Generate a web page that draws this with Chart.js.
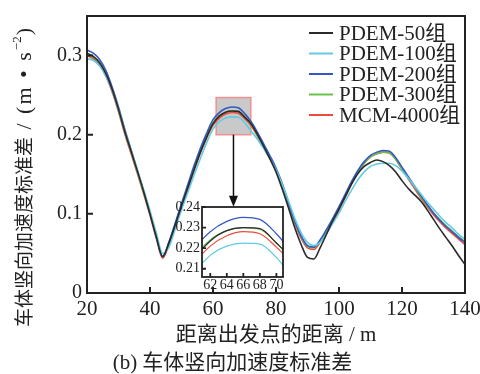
<!DOCTYPE html>
<html>
<head>
<meta charset="utf-8">
<script src="https://cdn.jsdelivr.net/npm/chart.js@4.4.1/dist/chart.umd.min.js"></script>
<style>
  html, body { margin: 0; padding: 0; background: #fff; }
  #wrap { position: relative; width: 480px; height: 374px; }
  #main { position: absolute; left: 0; top: 0; }
  #inset { position: absolute; left: 160px; top: 195px; }
</style>
</head>
<body>
<div id="wrap">
  <canvas id="main" width="480" height="374"></canvas>
  <canvas id="inset" width="130" height="105"></canvas>
</div>
<script>
// distance from the start (m)
const distance = [20, 22, 24, 26, 28, 30, 32, 34, 36, 38, 40, 42, 44, 46, 48, 50, 52, 54, 56, 58,
  60, 62, 64, 66, 68, 70, 72, 74, 76, 78, 80, 82, 84, 86, 88, 90, 92, 94, 96, 98,
  100, 102, 104, 106, 108, 110, 112, 114, 116, 118, 120, 122, 124, 126, 128, 130, 132, 134, 136, 138, 140];

// std of car body vertical acceleration (m/s^2)
const pdem50 = [0.303, 0.299, 0.291, 0.277, 0.257, 0.232, 0.204, 0.179, 0.154, 0.128, 0.100, 0.071, 0.046, 0.063, 0.086, 0.110, 0.133, 0.156, 0.178, 0.197,
  0.214, 0.2235, 0.2285, 0.2300, 0.2295, 0.2225, 0.214, 0.201, 0.186, 0.170, 0.153, 0.131, 0.107, 0.082, 0.061, 0.045, 0.043, 0.057, 0.074, 0.091,
  0.106, 0.122, 0.138, 0.151, 0.160, 0.165, 0.168, 0.166, 0.161, 0.153, 0.142, 0.132, 0.124, 0.116, 0.105, 0.093, 0.081, 0.070, 0.059, 0.047, 0.036];
const pdem100 = [0.296, 0.294, 0.287, 0.274, 0.256, 0.232, 0.205, 0.180, 0.155, 0.130, 0.104, 0.076, 0.050, 0.058, 0.081, 0.105, 0.127, 0.149, 0.170, 0.190,
  0.207, 0.2165, 0.221, 0.2225, 0.222, 0.2155, 0.205, 0.195, 0.183, 0.170, 0.156, 0.137, 0.116, 0.094, 0.076, 0.064, 0.060, 0.064, 0.075, 0.088,
  0.101, 0.116, 0.130, 0.143, 0.153, 0.160, 0.163, 0.164, 0.164, 0.161, 0.154, 0.145, 0.135, 0.125, 0.115, 0.106, 0.097, 0.089, 0.082, 0.074, 0.068];
const pdem200 = [0.307, 0.303, 0.295, 0.281, 0.260, 0.235, 0.207, 0.181, 0.155, 0.129, 0.101, 0.071, 0.046, 0.064, 0.088, 0.113, 0.137, 0.161, 0.183, 0.202,
  0.219, 0.228, 0.233, 0.235, 0.234, 0.227, 0.217, 0.204, 0.189, 0.174, 0.158, 0.138, 0.114, 0.091, 0.072, 0.060, 0.058, 0.067, 0.080, 0.094,
  0.109, 0.125, 0.141, 0.155, 0.166, 0.174, 0.178, 0.180, 0.179, 0.171, 0.159, 0.147, 0.135, 0.123, 0.112, 0.101, 0.092, 0.084, 0.077, 0.070, 0.064];
const pdem300 = [0.302, 0.298, 0.290, 0.276, 0.256, 0.231, 0.203, 0.178, 0.153, 0.127, 0.100, 0.071, 0.046, 0.064, 0.087, 0.111, 0.134, 0.157, 0.179, 0.198,
  0.215, 0.224, 0.2285, 0.2300, 0.2292, 0.2225, 0.2135, 0.200, 0.186, 0.171, 0.156, 0.136, 0.113, 0.090, 0.071, 0.059, 0.057, 0.066, 0.079, 0.093,
  0.107, 0.123, 0.139, 0.153, 0.164, 0.172, 0.176, 0.178, 0.177, 0.169, 0.157, 0.145, 0.134, 0.122, 0.111, 0.101, 0.093, 0.085, 0.078, 0.071, 0.065];
const mcm4000 = [0.300, 0.296, 0.288, 0.274, 0.254, 0.229, 0.201, 0.176, 0.151, 0.125, 0.098, 0.069, 0.044, 0.061, 0.085, 0.109, 0.132, 0.155, 0.177, 0.196,
  0.212, 0.221, 0.226, 0.228, 0.227, 0.2205, 0.212, 0.199, 0.185, 0.170, 0.155, 0.134, 0.111, 0.088, 0.069, 0.057, 0.055, 0.064, 0.077, 0.091,
  0.105, 0.121, 0.138, 0.152, 0.164, 0.172, 0.176, 0.178, 0.177, 0.169, 0.156, 0.144, 0.132, 0.120, 0.109, 0.099, 0.090, 0.082, 0.075, 0.068, 0.061];

const seriesLabels = ['PDEM-50组', 'PDEM-100组', 'PDEM-200组', 'PDEM-300组', 'MCM-4000组'];
const seriesValues = [pdem50, pdem100, pdem200, pdem300, mcm4000];
const colors = ['#2a2a2a', '#62cbe3', '#3358c4', '#6cbf4c', '#ec4a3c'];

const xTicks = [20, 40, 60, 80, 100, 120, 140];
const yTicks = [0, 0.1, 0.2, 0.3];
const insetXTicks = [62, 64, 66, 68, 70];
const insetYTicks = [0.21, 0.22, 0.23, 0.24];

const serif = "'Liberation Serif', 'Noto Sans CJK SC', serif";
const ink = '#222';

function points(vals, lo, hi) {
  return distance.map((d, i) => ({x: d, y: vals[i]})).filter(p => p.x >= lo && p.x <= hi);
}

// box round the plot area, inward ticks on bottom and left
const frame = {
  id: 'frame',
  beforeDatasetsDraw(chart, args, opts) {
    if (!opts.fill) return;
    const a = chart.chartArea;
    chart.ctx.save();
    chart.ctx.fillStyle = opts.fill;
    chart.ctx.fillRect(a.left, a.top, a.right - a.left, a.bottom - a.top);
    chart.ctx.restore();
  },
  afterDatasetsDraw(chart, args, opts) {
    const {ctx, chartArea: a, scales: {x, y}} = chart;
    ctx.save();
    ctx.strokeStyle = ink;
    ctx.lineWidth = opts.lineWidth;
    ctx.strokeRect(a.left, a.top, a.right - a.left, a.bottom - a.top);
    ctx.beginPath();
    x.ticks.forEach(t => {
      const px = x.getPixelForValue(t.value);
      ctx.moveTo(px, a.bottom);
      ctx.lineTo(px, a.bottom - opts.len);
    });
    y.ticks.forEach(t => {
      const py = y.getPixelForValue(t.value);
      ctx.moveTo(a.left, py);
      ctx.lineTo(a.left + opts.len, py);
    });
    ctx.stroke();
    ctx.restore();
  }
};

// zoom box, arrow, legend and y title on the main chart
const extras = {
  id: 'extras',
  beforeDatasetsDraw(chart) {
    const {ctx, scales: {x, y}} = chart;
    const l = x.getPixelForValue(61), r = x.getPixelForValue(72);
    const t = y.getPixelForValue(0.247), b = y.getPixelForValue(0.2);
    ctx.save();
    ctx.fillStyle = '#c9c9c9';
    ctx.fillRect(l, t, r - l, b - t);
    ctx.strokeStyle = '#f09090';
    ctx.lineWidth = 1.5;
    ctx.strokeRect(l, t, r - l, b - t);
    ctx.restore();
  },
  afterDraw(chart) {
    const {ctx, scales: {x, y}} = chart;
    ctx.save();
    // arrow
    const ax = x.getPixelForValue(66.5);
    const y0 = y.getPixelForValue(0.2), y1 = y.getPixelForValue(0.109);
    ctx.strokeStyle = '#111';
    ctx.fillStyle = '#111';
    ctx.lineWidth = 1.5;
    ctx.beginPath();
    ctx.moveTo(ax, y0);
    ctx.lineTo(ax, y1 - 8);
    ctx.stroke();
    ctx.beginPath();
    ctx.moveTo(ax - 4.5, y1 - 11);
    ctx.lineTo(ax + 4.5, y1 - 11);
    ctx.lineTo(ax, y1);
    ctx.closePath();
    ctx.fill();

    // legend
    ctx.textBaseline = 'middle';
    ctx.textAlign = 'left';
    ctx.font = '21px ' + serif;
    seriesLabels.forEach((lab, i) => {
      const ly = 33 + i * 20.5;
      ctx.strokeStyle = colors[i];
      ctx.lineWidth = 2;
      ctx.beginPath();
      ctx.moveTo(309, ly);
      ctx.lineTo(333, ly);
      ctx.stroke();
      ctx.fillStyle = ink;
      ctx.fillText(lab, 339, ly + 1);
    });

    // y axis title
    ctx.translate(24, 327);
    ctx.rotate(-Math.PI / 2);
    ctx.fillStyle = ink;
    ctx.font = "19px 'Noto Sans CJK SC'";
    const cjk = '车体竖向加速度标准差';
    ctx.fillText(cjk, 0, 0);
    let cx = ctx.measureText(cjk).width;
    ctx.font = "22px 'Liberation Serif'";
    ctx.letterSpacing = '2px';
    const unit = ' / (m • s';
    ctx.fillText(unit, cx, 1);
    cx += ctx.measureText(unit).width;
    ctx.font = "13px 'Liberation Serif'";
    ctx.letterSpacing = '0px';
    ctx.fillText('−2', cx, -6);
    cx += ctx.measureText('−2').width + 1;
    ctx.font = "22px 'Liberation Serif'";
    ctx.fillText(')', cx, 1);
    ctx.restore();
  }
};

new Chart(document.getElementById('main'), {
  type: 'line',
  data: {
    datasets: seriesValues.map((vals, i) => ({
      label: seriesLabels[i],
      data: points(vals, 20, 140),
      borderColor: colors[i],
      borderWidth: 1.6,
      pointRadius: 0,
      cubicInterpolationMode: 'monotone',
      fill: false
    }))
  },
  options: {
    responsive: false,
    animation: false,
    events: [],
    layout: {padding: {top: 16, right: 15, bottom: 0, left: 0}},
    plugins: {
      legend: {display: false},
      tooltip: {enabled: false},
      title: {
        display: true,
        position: 'bottom',
        text: '(b) 车体竖向加速度标准差',
        color: ink,
        font: {family: serif, size: 21, weight: 'normal', lineHeight: 1},
        padding: {top: 0, bottom: 0}
      },
      frame: {lineWidth: 2, len: 6}
    },
    scales: {
      x: {
        type: 'linear',
        min: 20,
        max: 140,
        afterBuildTicks: s => { s.ticks = xTicks.map(v => ({value: v})); },
        afterFit: s => { s.height = 60; s.paddingLeft = 0; s.paddingRight = 0; },
        grid: {display: false, drawTicks: false},
        border: {display: false},
        ticks: {color: ink, font: {family: serif, size: 21}, padding: 4, maxRotation: 0, autoSkip: false},
        title: {
          display: true,
          text: '距离出发点的距离 / m',
          color: ink,
          font: {family: serif, size: 21},
          padding: {top: 0, bottom: 5.4}
        }
      },
      y: {
        min: 0,
        max: 0.35,
        afterBuildTicks: s => { s.ticks = yTicks.map(v => ({value: v})); },
        afterFit: s => { s.width = 87; s.paddingTop = 0; s.paddingBottom = 0; },
        grid: {display: false, drawTicks: false},
        border: {display: false},
        ticks: {color: ink, font: {family: serif, size: 20}, padding: 5, callback: v => String(v)}
      }
    }
  },
  plugins: [frame, extras]
});

// zoomed inset
new Chart(document.getElementById('inset'), {
  type: 'line',
  data: {
    datasets: seriesValues.map((vals, i) => ({
      label: seriesLabels[i],
      data: points(vals, 58, 74),
      borderColor: colors[i],
      borderWidth: 1.2,
      pointRadius: 0,
      cubicInterpolationMode: 'monotone',
      fill: false
    }))
  },
  options: {
    responsive: false,
    animation: false,
    events: [],
    layout: {padding: {top: 12, right: 7, bottom: 0, left: 0}},
    plugins: {
      legend: {display: false},
      tooltip: {enabled: false},
      frame: {lineWidth: 1.8, len: 4, fill: '#fff'}
    },
    scales: {
      x: {
        type: 'linear',
        min: 61,
        max: 70.8,
        afterBuildTicks: s => { s.ticks = insetXTicks.map(v => ({value: v})); },
        afterFit: s => { s.height = 23; s.paddingLeft = 0; s.paddingRight = 0; },
        grid: {display: false, drawTicks: false},
        border: {display: false},
        ticks: {color: ink, font: {family: serif, size: 14}, padding: 0, maxRotation: 0, autoSkip: false}
      },
      y: {
        min: 0.206,
        max: 0.24,
        afterBuildTicks: s => { s.ticks = insetYTicks.map(v => ({value: v})); },
        afterFit: s => { s.width = 42; s.paddingTop = 0; s.paddingBottom = 0; },
        grid: {display: false, drawTicks: false},
        border: {display: false},
        ticks: {color: ink, font: {family: serif, size: 14}, padding: 2, callback: v => v.toFixed(2)}
      }
    }
  },
  plugins: [frame]
});
</script>
</body>
</html>
